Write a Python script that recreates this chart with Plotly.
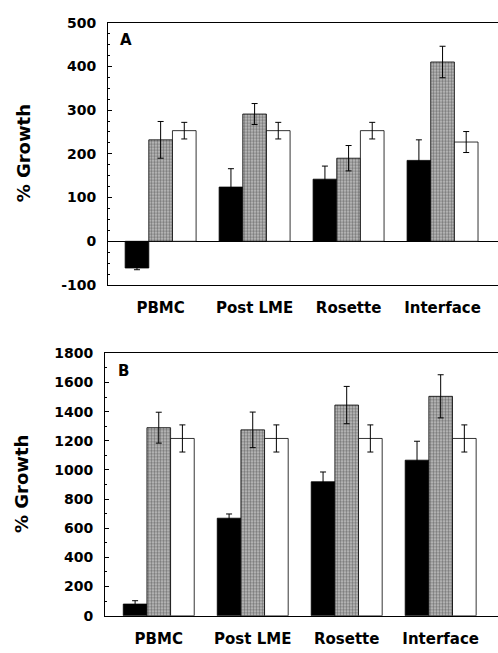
import plotly.graph_objects as go

categories = ["PBMC", "Post LME", "Rosette", "Interface"]

# Panel A values (% growth)
a_black = [-61, 124, 142, 185]
a_black_err = [4, 42, 30, 47]
a_gray = [232, 291, 190, 410]
a_gray_err = [42, 24, 29, 36]
a_white = [253, 253, 253, 227]
a_white_err = [19, 19, 19, 24]

# Panel B values (% growth)
b_black = [80, 669, 919, 1067]
b_black_err = [23, 29, 67, 130]
b_gray = [1290, 1275, 1445, 1505]
b_gray_err = [106, 122, 128, 148]
b_white = [1216, 1216, 1216, 1216]
b_white_err = [93, 93, 93, 93]

a_ticks = [-100, 0, 100, 200, 300, 400, 500]
b_ticks = [0, 200, 400, 600, 800, 1000, 1200, 1400, 1600, 1800]

FONT = "DejaVu Sans"
W, H = 498, 653

fig = go.Figure()

def add_panel(xa, ya, vals):
    styles = [
        dict(marker=dict(color="black", line=dict(color="black", width=0.8))),
        dict(marker=dict(color="#b0b0b0", line=dict(color="black", width=0.8),
                         pattern=dict(shape=".", fgcolor="#2a2a2a", bgcolor="#c4c4c4",
                                      size=3, solidity=0.5))),
        dict(marker=dict(color="white", line=dict(color="black", width=0.8))),
    ]
    for (v, e), st in zip(vals, styles):
        fig.add_trace(go.Bar(
            x=categories, y=v, xaxis=xa, yaxis=ya,
            error_y=dict(type="data", array=e, visible=True, color="black", thickness=1, width=3),
            showlegend=False, **st))

add_panel("x", "y", [(a_black, a_black_err), (a_gray, a_gray_err), (a_white, a_white_err)])
add_panel("x2", "y2", [(b_black, b_black_err), (b_gray, b_gray_err), (b_white, b_white_err)])

tickfont = dict(family=FONT, size=14, color="black")
catfont = dict(family=FONT, size=15, color="black")

def ydom(top, bottom):
    return [1 - bottom / H, 1 - top / H]

common_x = dict(showline=True, linecolor="black", linewidth=1, mirror=True, ticks="",
                tickfont=catfont, showgrid=False, zeroline=False, ticklabelstandoff=9,
                tickvals=categories, ticktext=[f"<b>{c}</b>" for c in categories])
common_y = dict(showline=True, linecolor="black", linewidth=1, ticks="inside", ticklen=4,
                tickcolor="black", tickfont=tickfont, showgrid=False, ticklabelstandoff=8)

fig.update_layout(
    width=W, height=H,
    margin=dict(l=0, r=0, t=0, b=0),
    paper_bgcolor="white", plot_bgcolor="white",
    font=dict(family=FONT, color="black"),
    barmode="group", bargap=0.245, bargroupgap=0,
    xaxis=dict(domain=[108 / W, 1], range=[-0.56, 3.59], anchor="y", **common_x),
    yaxis=dict(domain=ydom(15, 284), range=[-100, 500], anchor="x",
               tickvals=a_ticks, ticktext=[f"<b>{v}</b>" for v in a_ticks],
               zeroline=True, zerolinecolor="black", zerolinewidth=1,
               minor=dict(dtick=25, ticks="inside", ticklen=2, tickcolor="black"), **common_y),
    xaxis2=dict(domain=[105 / W, 1], range=[-0.572, 3.61], anchor="y2", **common_x),
    yaxis2=dict(domain=ydom(354, 623), range=[0, 1800], anchor="x2",
                tickvals=b_ticks, ticktext=[f"<b>{v}</b>" for v in b_ticks],
                zeroline=False,
                minor=dict(dtick=100, ticks="inside", ticklen=2, tickcolor="black"), **common_y),
    annotations=[
        dict(text="<b>% Growth</b>", x=23 / W, y=1 - 149 / H, xref="paper", yref="paper",
             xanchor="center", yanchor="middle",
             textangle=-90, showarrow=False, font=dict(family=FONT, size=18, color="black")),
        dict(text="<b>% Growth</b>", x=21 / W, y=1 - 488 / H, xref="paper", yref="paper",
             xanchor="center", yanchor="middle",
             textangle=-90, showarrow=False, font=dict(family=FONT, size=18, color="black")),
        dict(text="<b>A</b>", x=126 / W, y=1 - 33 / H, xref="paper", yref="paper",
             xanchor="center", yanchor="middle",
             showarrow=False, font=dict(family=FONT, size=15, color="black")),
        dict(text="<b>B</b>", x=123 / W, y=1 - 372 / H, xref="paper", yref="paper",
             xanchor="center", yanchor="middle",
             showarrow=False, font=dict(family=FONT, size=15, color="black")),
    ],
)

fig.write_html("out.html")
